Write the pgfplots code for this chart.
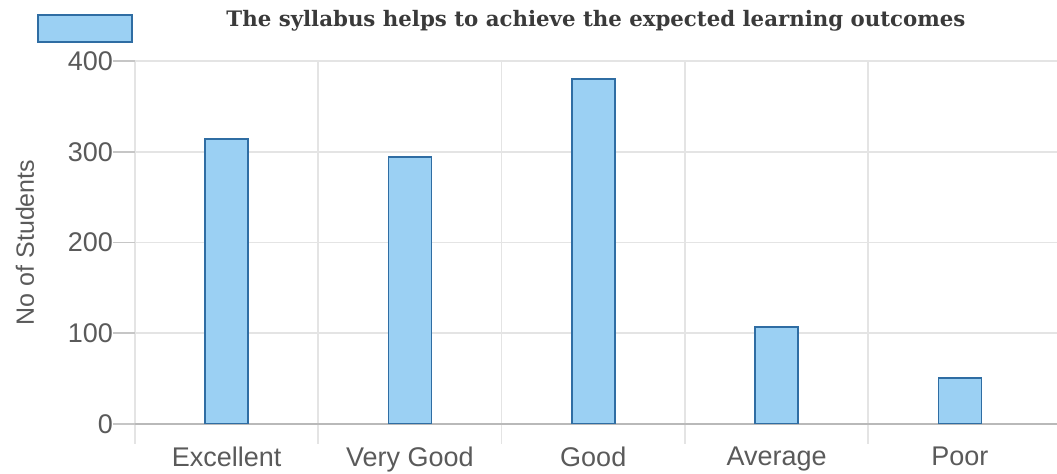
\documentclass[border=0pt]{standalone}
\usepackage{fontspec}
\setmainfont{Liberation Sans}
\newfontfamily\titlefont{DejaVu Serif}
\usepackage{pgfplots}
\pgfplotsset{compat=1.18}
\definecolor{barfill}{HTML}{9BD0F3}
\definecolor{baredge}{HTML}{2F6DA3}
\definecolor{gridgray}{HTML}{E4E4E4}
\definecolor{textgray}{HTML}{5A5A5A}
\definecolor{titlegray}{HTML}{3A3A3A}
\begin{document}
\begin{tikzpicture}
\begin{axis}[
    scale only axis,
    width=461pt, height=181.5pt,
    xmin=-0.5, xmax=4.53, ymin=0, ymax=400,
    ybar, bar width=21.5pt,
    ytick={0,100,...,400},
    xtick={0,...,4},
    xticklabels={Excellent,Very Good,Good,Average,Poor},
    minor xtick={-0.5,0.5,1.5,2.5,3.5},
    ymajorgrids=true, xminorgrids=true,
    grid style={gridgray, line width=0.8pt},
    tick align=outside,
    major tick length=11pt, minor tick length=10pt,
    major x tick style={draw=none},
    minor x tick style={draw=gridgray, line width=0.8pt},
    y tick style={draw=gray!45, line width=0.8pt},
    axis x line*=bottom, axis y line*=left,
    y axis line style={draw=none},
    x axis line style={draw=gray!55, line width=0.8pt},
    ticklabel style={font=\fontsize{13.5}{15}\selectfont, text=textgray},
    xticklabel style={yshift=3pt},
    yticklabel style={xshift=3.5pt},
    /pgf/number format/assume math mode=true,
    ylabel={No of Students},
    every axis y label/.style={at={([xshift=-55pt]axis description cs:0,0.5)}, rotate=90, anchor=center,
        font=\fontsize{12.5}{14}\selectfont, text=textgray},
    title={\titlefont\bfseries The syllabus helps to achieve the expected learning outcomes},
    title style={at={(axis description cs:0.5,1)}, anchor=center, yshift=14pt,
        font=\fontsize{10.65}{12}\selectfont, text=titlegray},
    legend image code/.code={\draw[fill=barfill, draw=baredge, line width=0.8pt] (0pt,-6.75pt) rectangle (47pt,6.75pt);},
    legend style={at={(rel axis cs:-0.1058,1.0895)}, anchor=west, draw=none, fill=none,
        inner sep=0pt, outer sep=0pt, nodes={inner sep=0pt, outer sep=0pt}},
]
\addplot[fill=barfill, draw=baredge, line width=0.8pt]
    coordinates {(0,314) (1,294) (2,380) (3,107) (4,51)};
\addlegendentry{}
\end{axis}
\pgfresetboundingbox
\useasboundingbox (-67.5pt,-25pt) rectangle (461pt,212pt);
\end{tikzpicture}
\end{document}
